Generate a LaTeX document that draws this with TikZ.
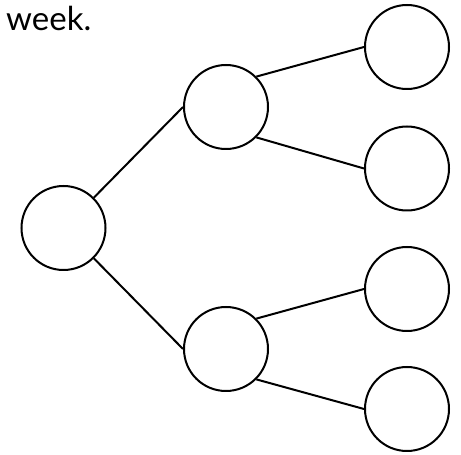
\documentclass[tikz,border=0pt]{standalone}
\usepackage{fontspec}
\setmainfont{Lato}
\usepackage{tikz}
\usetikzlibrary{positioning}

\tikzset{
    leaf/.style={circle, draw=black, line width=2pt, minimum size=84pt, inner sep=0pt},
    branch/.style={line width=2pt}
}

\begin{document}
\begin{tikzpicture}[x=1pt, y=1pt]
            % Frame to ensure alignment:
            \useasboundingbox                                                 (0.00, 0.00) rectangle (461.00, 455.00);
            % Heading text
            \node[anchor=base west, inner sep=0pt, font=\fontsize{33}{36}\selectfont] (word) at (6.00, 424.00) {week.};
            % Root
            \node[leaf] (root)  at ( 63.50, 227.00) {};
            % Middle level
            \node[leaf] (up)    at (226.00, 348.00) {};
            \node[leaf] (down)  at (226.00, 106.00) {};
            % Leaves
            \node[leaf] (upA)   at (407.00, 408.00) {};
            \node[leaf] (upB)   at (407.00, 286.50) {};
            \node[leaf] (downA) at (407.00, 166.00) {};
            \node[leaf] (downB) at (407.00,  46.00) {};
            % Branches
            \draw[branch] (root.north east) -- (up.west);
            \draw[branch] (root.south east) -- (down.west);
            \draw[branch] (up.north east)   -- (upA.west);
            \draw[branch] (up.south east)   -- (upB.west);
            \draw[branch] (down.north east) -- (downA.west);
            \draw[branch] (down.south east) -- (downB.west);
        \end{tikzpicture}
\end{document}
